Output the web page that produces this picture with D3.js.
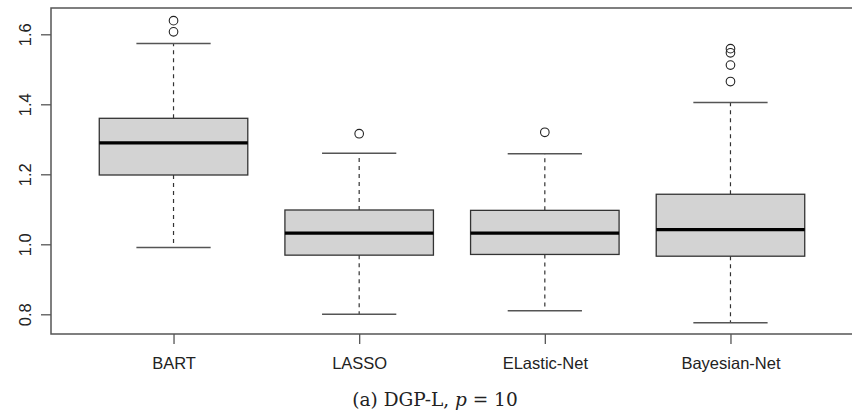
<!DOCTYPE html>
<html>
<head>
<meta charset="utf-8">
<script src="https://cdn.jsdelivr.net/npm/d3@7"></script>
<style>
  html, body { margin: 0; padding: 0; background: #fff; }
  svg { display: block; }
</style>
</head>
<body>
<svg id="chart" width="852" height="410"></svg>
<script>
// Methods compared
const categories = ["BART", "LASSO", "ELastic-Net", "Bayesian-Net"];
// Five-number summaries per method: lower whisker, Q1, median, Q3, upper whisker
const lowerWhisker = [0.991, 0.800, 0.810, 0.776];
const q1Values     = [1.198, 0.969, 0.971, 0.966];
const medians      = [1.290, 1.032, 1.032, 1.042];
const q3Values     = [1.360, 1.098, 1.097, 1.143];
const upperWhisker = [1.574, 1.260, 1.259, 1.405];
// Points beyond the whiskers
const outliers = [
  [1.607, 1.639],
  [1.316],
  [1.320],
  [1.465, 1.512, 1.547, 1.559]
];
const yTicks = [0.8, 1.0, 1.2, 1.4, 1.6];

const svg = d3.select("#chart");
const plot = { left: 51, right: 853, top: 8, bottom: 334 };

const x = d3.scaleLinear().domain([0.34, 4.66]).range([plot.left, plot.right]);
const y = d3.scaleLinear().domain([0.8, 1.6]).range([314.3, 34.3]);

const boxHalf = 0.4;     // box width 0.8 units
const capHalf = 0.2;     // whisker cap half width
const data = categories.map((c, i) => ({
  name: c, i: i + 1,
  lo: lowerWhisker[i], q1: q1Values[i], med: medians[i], q3: q3Values[i], hi: upperWhisker[i],
  out: outliers[i]
}));

const g = svg.append("g");
const boxes = g.selectAll("g.box").data(data).join("g").attr("class", "box");

// Dashed whiskers
boxes.append("line")
  .attr("x1", d => x(d.i)).attr("x2", d => x(d.i))
  .attr("y1", d => y(d.q3)).attr("y2", d => y(d.hi))
  .attr("stroke", "#333").attr("stroke-width", 1.2).attr("stroke-dasharray", "4,4");
boxes.append("line")
  .attr("x1", d => x(d.i)).attr("x2", d => x(d.i))
  .attr("y1", d => y(d.q1)).attr("y2", d => y(d.lo))
  .attr("stroke", "#333").attr("stroke-width", 1.2).attr("stroke-dasharray", "4,4");

// Whisker caps
boxes.append("line")
  .attr("x1", d => x(d.i - capHalf)).attr("x2", d => x(d.i + capHalf))
  .attr("y1", d => y(d.hi)).attr("y2", d => y(d.hi))
  .attr("stroke", "#555").attr("stroke-width", 1.5);
boxes.append("line")
  .attr("x1", d => x(d.i - capHalf)).attr("x2", d => x(d.i + capHalf))
  .attr("y1", d => y(d.lo)).attr("y2", d => y(d.lo))
  .attr("stroke", "#555").attr("stroke-width", 1.5);

// Boxes
boxes.append("rect")
  .attr("x", d => x(d.i - boxHalf))
  .attr("width", d => x(d.i + boxHalf) - x(d.i - boxHalf))
  .attr("y", d => y(d.q3))
  .attr("height", d => y(d.q1) - y(d.q3))
  .attr("fill", "#d3d3d3").attr("stroke", "#333").attr("stroke-width", 1.3);

// Medians
boxes.append("line")
  .attr("x1", d => x(d.i - boxHalf)).attr("x2", d => x(d.i + boxHalf))
  .attr("y1", d => y(d.med)).attr("y2", d => y(d.med))
  .attr("stroke", "#000").attr("stroke-width", 3.2);

// Outliers
boxes.selectAll("circle").data(d => d.out.map(v => ({ i: d.i, v }))).join("circle")
  .attr("cx", d => x(d.i)).attr("cy", d => y(d.v)).attr("r", 4.3)
  .attr("fill", "none").attr("stroke", "#222").attr("stroke-width", 1.1);

// Plot frame
svg.append("rect")
  .attr("x", plot.left).attr("y", plot.top)
  .attr("width", plot.right - plot.left).attr("height", plot.bottom - plot.top)
  .attr("fill", "none").attr("stroke", "#555").attr("stroke-width", 1.5);

// Y axis
const yAxis = svg.append("g")
  .attr("transform", `translate(${plot.left},0)`)
  .call(d3.axisLeft(y).tickValues(yTicks).tickSize(10).tickFormat(d3.format(".1f")));
yAxis.select(".domain").remove();
yAxis.selectAll(".tick line").attr("stroke", "#555").attr("stroke-width", 1.3);
yAxis.selectAll(".tick text")
  .attr("x", null).attr("dy", null)
  .attr("transform", "translate(-26,0) rotate(-90)")
  .attr("text-anchor", "middle")
  .attr("dy", "0.35em")
  .style("font-family", "'Liberation Sans', Arial, sans-serif")
  .style("font-size", "16.5px").attr("fill", "#222");

// X axis
const xAxis = svg.append("g")
  .attr("transform", `translate(0,${plot.bottom})`)
  .call(d3.axisBottom(x).tickValues([1, 2, 3, 4]).tickSize(10).tickPadding(13)
        .tickFormat(d => categories[d - 1]));
xAxis.select(".domain").remove();
xAxis.selectAll(".tick line").attr("stroke", "#555").attr("stroke-width", 1.3);
xAxis.selectAll(".tick text")
  .style("font-family", "'Liberation Sans', Arial, sans-serif")
  .style("font-size", "16.5px").attr("fill", "#222");

// Caption
const cap = svg.append("text")
  .attr("x", 435).attr("y", 406)
  .attr("text-anchor", "middle")
  .style("font-family", "'DejaVu Serif', 'Liberation Serif', serif")
  .style("font-size", "18.5px").attr("fill", "#222");
cap.append("tspan").text("(a) DGP-L, ");
cap.append("tspan").style("font-style", "italic").text("p");
cap.append("tspan").text(" = 10");
</script>
</body>
</html>
